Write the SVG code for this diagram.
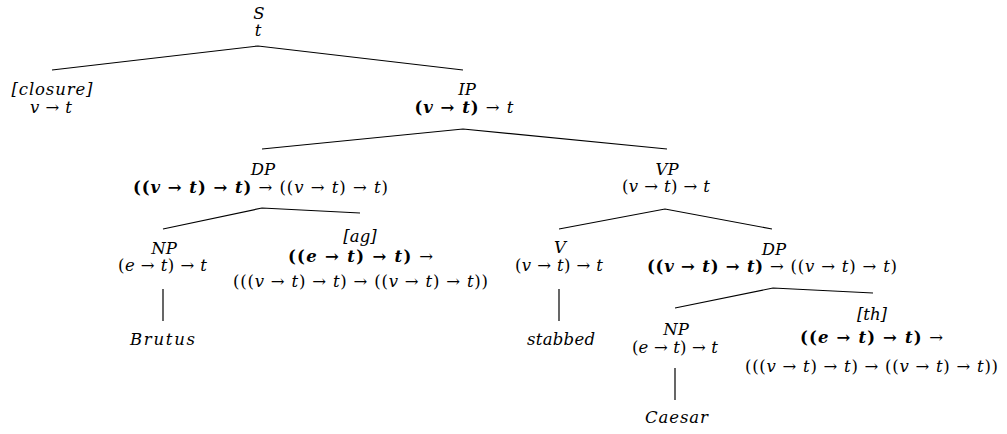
<svg xmlns="http://www.w3.org/2000/svg" width="1007" height="434" viewBox="0 0 1007 434">
<style>
text{font-family:"DejaVu Serif","Liberation Serif",serif;font-size:16.5px;text-anchor:middle;fill:#000}
.c{font-style:italic}
.i{font-style:italic}
.b{font-weight:bold}
.edge{stroke:#000;stroke-width:1.2;fill:none}
</style>
<rect width="1007" height="434" fill="#fff"/>
<g id="connectors">
<path class="edge" d="M52,70 L258,46 L463,70"/>
<path class="edge" d="M262,149 L463,129 L667,149"/>
<path class="edge" d="M163,229 L262,208 L360,213"/>
<path class="edge" d="M559,229 L665,209 L772,229"/>
<path class="edge" d="M675,308 L773,288 L873,293"/>
<path class="edge" d="M163,289 L163,321"/>
<path class="edge" d="M559,289 L559,321"/>
<path class="edge" d="M675,368 L675,400"/>
</g>
<g id="S"><text class="c" x="259" y="19">S</text><text x="258" y="36"><tspan class="i">t</tspan></text></g>
<g id="closure"><text class="c" x="52" y="95" textLength="81" lengthAdjust="spacing">[closure]</text><text x="51" y="113" textLength="42" lengthAdjust="spacing"><tspan class="i">v</tspan> → <tspan class="i">t</tspan></text></g>
<g id="IP"><text class="c" x="467" y="95">IP</text><text x="464" y="113" textLength="99" lengthAdjust="spacing"><tspan class="b">(<tspan class="i">v</tspan> → <tspan class="i">t</tspan>)</tspan> → <tspan class="i">t</tspan></text></g>
<g id="DP1"><text class="c" x="263" y="175">DP</text><text x="260.5" y="193" textLength="255" lengthAdjust="spacing"><tspan class="b">((<tspan class="i">v</tspan> → <tspan class="i">t</tspan>) → <tspan class="i">t</tspan>)</tspan> → ((<tspan class="i">v</tspan> → <tspan class="i">t</tspan>) → <tspan class="i">t</tspan>)</text></g>
<g id="VP"><text class="c" x="667" y="175">VP</text><text x="666" y="192" textLength="88" lengthAdjust="spacing">(<tspan class="i">v</tspan> → <tspan class="i">t</tspan>) → <tspan class="i">t</tspan></text></g>
<g id="NP1"><text class="c" x="164" y="254">NP</text><text x="162.5" y="271" textLength="89" lengthAdjust="spacing">(<tspan class="i">e</tspan> → <tspan class="i">t</tspan>) → <tspan class="i">t</tspan></text></g>
<g id="ag"><text class="c" x="360" y="242">[ag]</text><text x="360.5" y="262" textLength="145" lengthAdjust="spacing"><tspan class="b">((<tspan class="i">e</tspan> → <tspan class="i">t</tspan>) → <tspan class="i">t</tspan>)</tspan> →</text><text x="360.5" y="287" textLength="255" lengthAdjust="spacing">(((<tspan class="i">v</tspan> → <tspan class="i">t</tspan>) → <tspan class="i">t</tspan>) → ((<tspan class="i">v</tspan> → <tspan class="i">t</tspan>) → <tspan class="i">t</tspan>))</text></g>
<g id="Brutus"><text class="c" x="162.5" y="345" textLength="65" lengthAdjust="spacing">Brutus</text></g>
<g id="V"><text class="c" x="560" y="253">V</text><text x="559" y="271" textLength="88" lengthAdjust="spacing">(<tspan class="i">v</tspan> → <tspan class="i">t</tspan>) → <tspan class="i">t</tspan></text></g>
<g id="DP2"><text class="c" x="774" y="255">DP</text><text x="772" y="272" textLength="250" lengthAdjust="spacing"><tspan class="b">((<tspan class="i">v</tspan> → <tspan class="i">t</tspan>) → <tspan class="i">t</tspan>)</tspan> → ((<tspan class="i">v</tspan> → <tspan class="i">t</tspan>) → <tspan class="i">t</tspan>)</text></g>
<g id="stabbed"><text class="c" x="561" y="345" textLength="68" lengthAdjust="spacing">stabbed</text></g>
<g id="NP2"><text class="c" x="676" y="335">NP</text><text x="675" y="353" textLength="86" lengthAdjust="spacing">(<tspan class="i">e</tspan> → <tspan class="i">t</tspan>) → <tspan class="i">t</tspan></text></g>
<g id="th"><text class="c" x="872" y="320">[th]</text><text x="871.5" y="343" textLength="143" lengthAdjust="spacing"><tspan class="b">((<tspan class="i">e</tspan> → <tspan class="i">t</tspan>) → <tspan class="i">t</tspan>)</tspan> →</text><text x="871.5" y="372" textLength="253" lengthAdjust="spacing">(((<tspan class="i">v</tspan> → <tspan class="i">t</tspan>) → <tspan class="i">t</tspan>) → ((<tspan class="i">v</tspan> → <tspan class="i">t</tspan>) → <tspan class="i">t</tspan>))</text></g>
<g id="Caesar"><text class="c" x="676.5" y="423" textLength="63" lengthAdjust="spacing">Caesar</text></g>
</svg>
